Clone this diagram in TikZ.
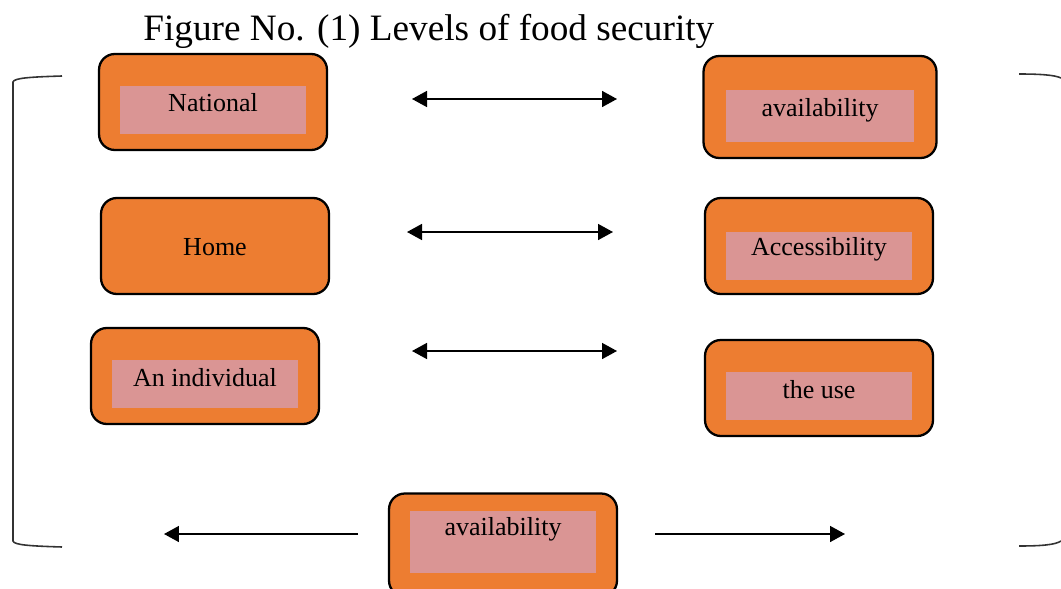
\documentclass[tikz,border=0pt]{standalone}
\usepackage{fontspec}
\setmainfont{Liberation Serif}
\usetikzlibrary{arrows.meta}
\definecolor{boxorange}{RGB}{237,125,49}
\definecolor{boxpink}{RGB}{218,149,148}

\begin{document}
\begin{tikzpicture}[x=0.02cm,y=-0.02cm,font=\fontsize{14.8}{17}\selectfont,
  >={Triangle[length=3mm,width=3.2mm]},
  outer/.style={draw=black,line width=1.3pt,rounded corners=9pt,fill=boxorange,
    minimum width=4.56cm,minimum height=1.92cm,inner sep=0pt},
  inner/.style={fill=boxpink,minimum width=3.72cm,minimum height=0.96cm,inner sep=0pt},
  tag/.style={inner sep=0pt,anchor=base},
  link/.style={line width=.9pt},
  brace/.style={draw=black!80,line width=.9pt}]
\useasboundingbox (0,0) rectangle (1061,588);
\node[tag,anchor=base west,font=\fontsize{21.2}{25}\selectfont] (title) at (143,41)
  {Figure No. (1) Levels of food security};
% left column
\node[outer] (national) at (213,102) {};
\node[inner] (national-in) at (213,110) {};
\node[tag] (national-txt) at (213,112) {National};
\node[outer] (home) at (215,246) {};
\node[tag] (home-txt) at (215,255) {Home};
\node[outer] (individual) at (205,376) {};
\node[inner] (individual-in) at (205,384) {};
\node[tag] (individual-txt) at (205,386) {An individual};
% right column
\node[outer,minimum width=4.66cm,minimum height=2.04cm] (avail) at (820,107) {};
\node[inner,minimum width=3.78cm,minimum height=1.04cm] (avail-in) at (820,116) {};
\node[tag] (avail-txt) at (820,116) {availability};
\node[outer] (access) at (819,246) {};
\node[inner] (access-in) at (819,256) {};
\node[tag] (access-txt) at (819,255) {Accessibility};
\node[outer] (use) at (819,388) {};
\node[inner] (use-in) at (819,396) {};
\node[tag] (use-txt) at (819,398) {the use};
% bottom
\node[outer,minimum height=2.06cm] (bottom) at (503,545) {};
\node[inner,minimum height=1.24cm] (bottom-in) at (503,542) {};
\node[tag] (bottom-txt) at (503,535) {availability};
% arrows
\coordinate (a1) at (412,99);  \coordinate (b1) at (617,99);
\coordinate (a2) at (407,232); \coordinate (b2) at (613,232);
\coordinate (a3) at (412,351); \coordinate (b3) at (617,351);
\coordinate (l0) at (358,534); \coordinate (l1) at (164,534);
\coordinate (r0) at (655,534); \coordinate (r1) at (845,534);
\draw[link,<->] (a1)--(b1);
\draw[link,<->] (a2)--(b2);
\draw[link,<->] (a3)--(b3);
\draw[link,->] (l0)--(l1);
\draw[link,->] (r0)--(r1);
% brackets
\draw[brace] (62,76) .. controls (30,77) and (14,78) .. (13,82) -- (13,541)
  .. controls (14,545) and (30,546) .. (62,547);
\draw[brace] (1019,74) .. controls (1040,74) and (1055,75) .. (1061,78);
\draw[brace] (1019,546) .. controls (1040,546) and (1055,545) .. (1061,541);
\end{tikzpicture}
\end{document}
